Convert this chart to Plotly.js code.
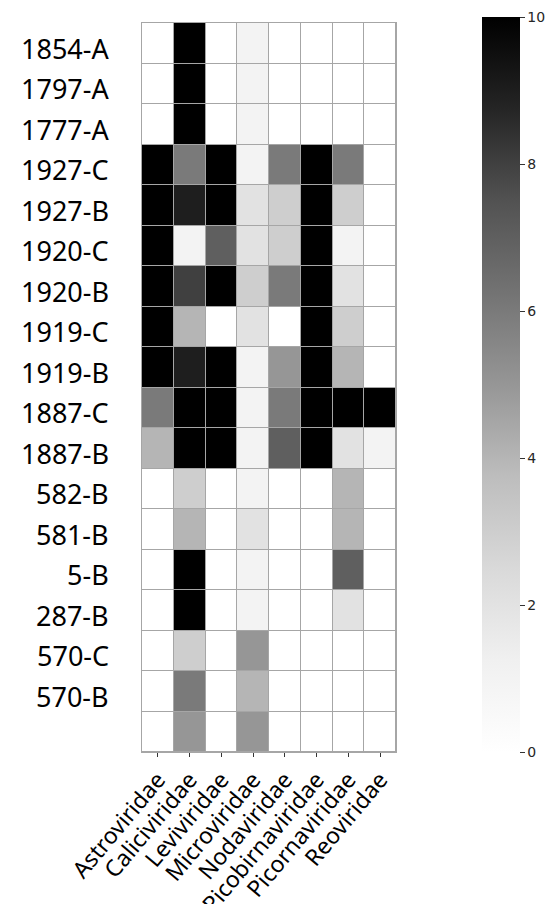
<!DOCTYPE html>
<html>
<head>
<meta charset="utf-8">
<script src="https://cdn.plot.ly/plotly-3.0.1.min.js"></script>
<style>html,body{margin:0;padding:0;background:#fff;}#chart{width:553px;height:904px;}</style>
</head>
<body>
<div id="chart"></div>
<script>
const samples = ['1854-A','1797-A','1777-A','1927-C','1927-B','1920-C','1920-B','1919-C','1919-B','1887-C','1887-B','582-B','581-B','5-B','287-B','570-C','570-B',''];
const families = ['Astroviridae','Caliciviridae','Leviviridae','Microviridae','Nodaviridae','Picobirnaviridae','Picornaviridae','Reoviridae'];

const astroviridae     = [0,0,0,10,10,10,10,10,10,6,4,0,0,0,0,0,0,0];
const caliciviridae    = [10,10,10,6,9,1,8,4,9,10,10,3,4,10,10,3,6,5];
const leviviridae      = [0,0,0,10,10,7,10,0,10,10,10,0,0,0,0,0,0,0];
const microviridae     = [1,1,1,1,2,2,3,2,1,1,1,1,2,1,1,5,4,5];
const nodaviridae      = [0,0,0,6,3,3,6,0,5,6,7,0,0,0,0,0,0,0];
const picobirnaviridae = [0,0,0,10,10,10,10,10,10,10,10,0,0,0,0,0,0,0];
const picornaviridae   = [0,0,0,6,3,1,2,3,4,10,2,4,4,7,2,0,0,0];
const reoviridae       = [0,0,0,0,0,0,0,0,0,10,1,0,0,0,0,0,0,0];

const colorbarTicks = [0,2,4,6,8,10];

const columns = [astroviridae,caliciviridae,leviviridae,microviridae,nodaviridae,picobirnaviridae,picornaviridae,reoviridae];
const rowIdx = samples.map((_,i)=>i);
const colIdx = families.map((_,j)=>j);
const z = rowIdx.map(i => columns.map(col => col[i]));

const greys = [[0,'#ffffff'],[0.125,'#f0f0f0'],[0.25,'#d9d9d9'],[0.375,'#bdbdbd'],[0.5,'#969696'],[0.625,'#737373'],[0.75,'#525252'],[0.875,'#252525'],[1,'#000000']];

// paper spans x 142..550; plot area 142..396
const paperW = 553 - 142 - 3;
const plotFrac = 254 / paperW;
const cbarX = (482 - 142) / paperW;

const trace = {
  type:'heatmap', z:z, x:colIdx, y:rowIdx,
  zmin:0, zmax:10, colorscale:greys, xgap:1, ygap:1,
  hoverinfo:'skip',
  colorbar:{
    x:cbarX, xanchor:'left', xref:'paper', thickness:38, thicknessmode:'pixels',
    len:735, lenmode:'pixels', y:0.5041, yanchor:'middle', ypad:0, xpad:0,
    outlinewidth:0, tickvals:colorbarTicks, ticktext:colorbarTicks.map(String),
    ticks:'outside', ticklen:5, tickcolor:'#333', tickwidth:1,
    tickfont:{family:'DejaVu Sans', size:14, color:'#262626'}
  }
};

const rowLabels = samples.map((s,i)=>({
  x:0, xref:'paper', y:i, yref:'y', text:s, showarrow:false,
  xanchor:'right', yanchor:'middle', xshift:-31, yshift:-5,
  font:{family:'Noto Sans', size:27, color:'#000'}
}));

const layout = {
  width:553, height:904,
  margin:{l:142, r:3, t:23, b:152},
  paper_bgcolor:'#ffffff', plot_bgcolor:'#a6a6a6',
  annotations: rowLabels,
  xaxis:{
    domain:[0, plotFrac],
    tickvals:colIdx, ticktext:families, tickangle:-50,
    range:[-0.5, families.length-0.5],
    showgrid:false, zeroline:false, showline:true, mirror:true, linecolor:'#a6a6a6', linewidth:1,
    ticks:'outside', ticklen:4, tickcolor:'#333', tickwidth:1,
    tickfont:{family:'Noto Sans', size:23, color:'#000'}
  },
  yaxis:{
    tickvals:rowIdx, showticklabels:false, autorange:false,
    range:[samples.length-0.5, -0.5],
    showgrid:false, zeroline:false, showline:true, mirror:true, linecolor:'#a6a6a6', linewidth:1,
    ticks:''
  }
};

Plotly.newPlot('chart',[trace],layout,{displayModeBar:false, staticPlot:true});
</script>
</body>
</html>
